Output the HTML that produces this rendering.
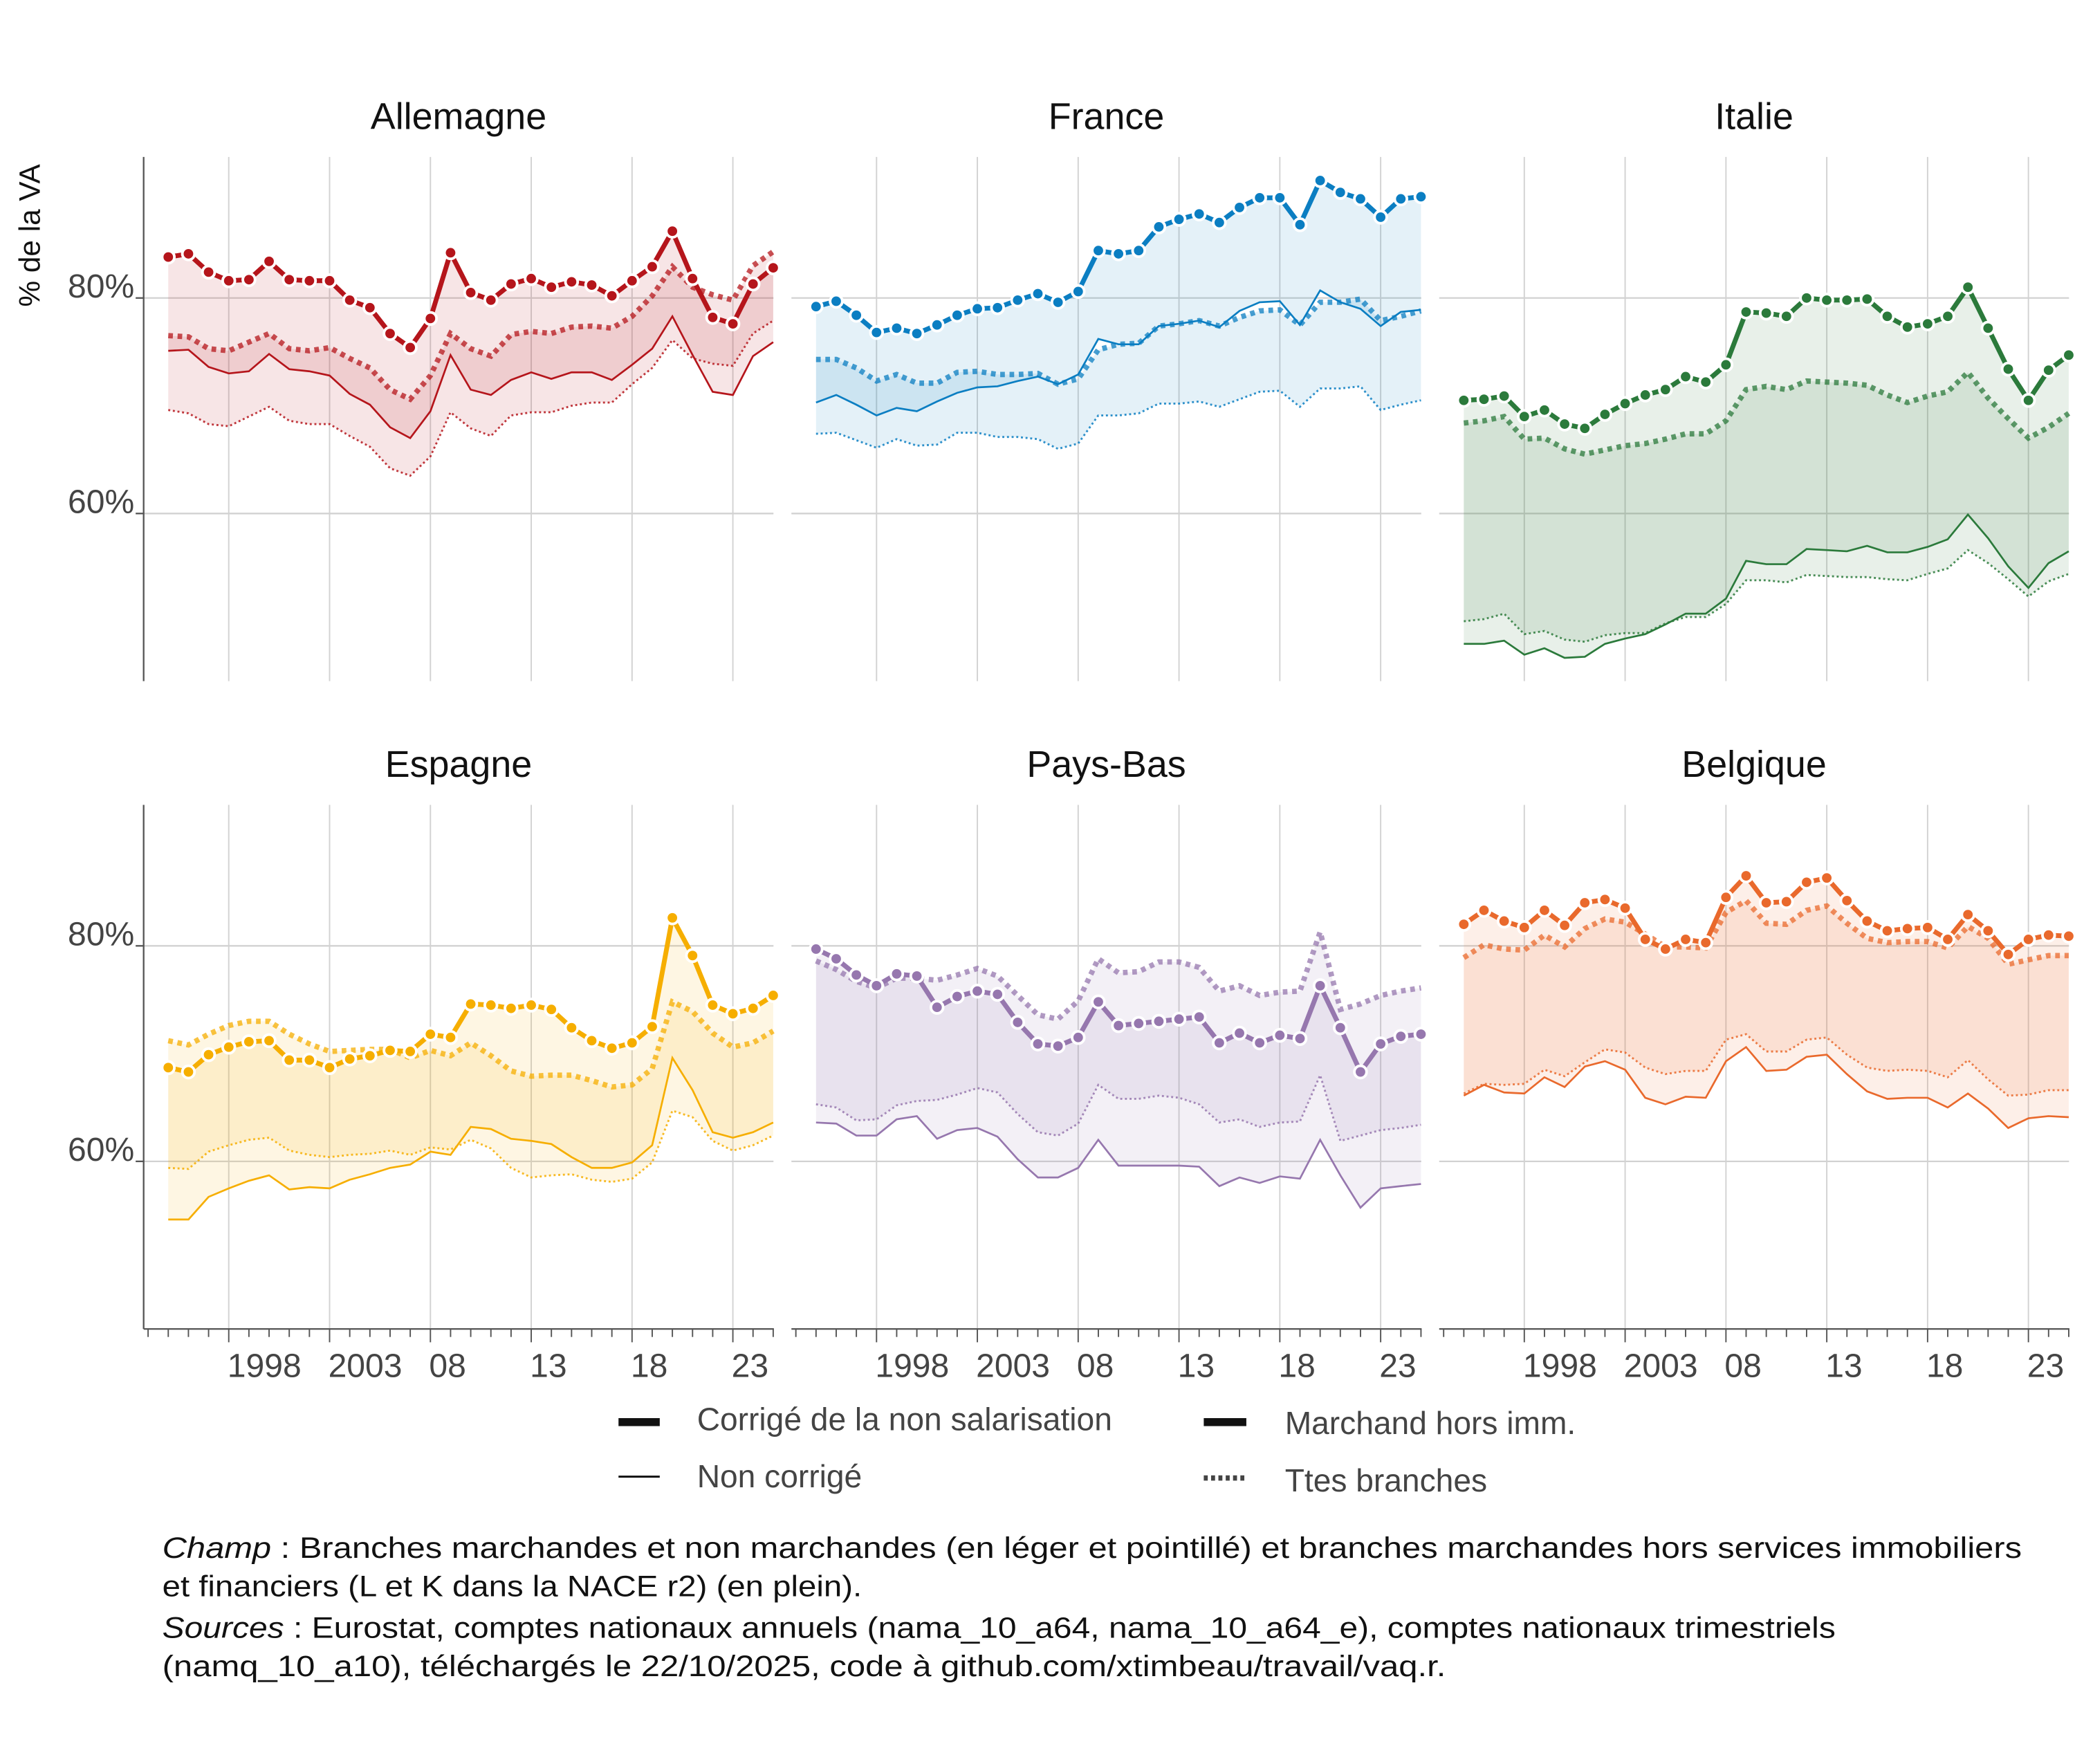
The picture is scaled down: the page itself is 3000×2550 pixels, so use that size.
<!DOCTYPE html>
<html><head><meta charset="utf-8"><style>
html,body{margin:0;padding:0;background:#fff;}
svg{display:block;}
text{font-family:"Liberation Sans Narrow","Liberation Sans",sans-serif;}
.foot{font-family:"Liberation Sans",sans-serif;font-size:22px;fill:#111;}
</style></head><body>
<svg id="chart" xmlns="http://www.w3.org/2000/svg" width="3000" height="2550" viewBox="0 0 1560 1326" preserveAspectRatio="none">
<rect x="0" y="0" width="1560" height="1326" fill="#fff"/>
<g id="grid"></g>
<g id="marks"></g>
<g id="axes"></g>
<text transform="translate(30,177) rotate(-90)" text-anchor="middle" font-size="22" fill="#111" style="font-family:'Liberation Sans',sans-serif">% de la VA</text>
<g>
 <rect x="465" y="1066" width="31" height="6" fill="#111"/>
 <text x="524" y="1075" font-size="24" fill="#444">Corrigé de la non salarisation</text>
 <line x1="465" y1="1110" x2="496" y2="1110" stroke="#111" stroke-width="1.6"/>
 <text x="524" y="1118" font-size="24" fill="#444">Non corrigé</text>
 <rect x="905" y="1066" width="32" height="6" fill="#111"/>
 <text x="966" y="1078" font-size="24" fill="#444">Marchand hors imm.</text>
 <line x1="905" y1="1111" x2="937" y2="1111" stroke="#444" stroke-width="4" stroke-dasharray="3 2.5"/>
 <text x="966" y="1121" font-size="24" fill="#444">Ttes branches</text>
</g>
<g>
 <text class="foot" x="122" y="1171" textLength="1398" lengthAdjust="spacingAndGlyphs"><tspan font-style="italic">Champ</tspan> : Branches marchandes et non marchandes (en léger et pointillé) et branches marchandes hors services immobiliers</text>
 <text class="foot" x="122" y="1200" textLength="526" lengthAdjust="spacingAndGlyphs">et financiers (L et K dans la NACE r2) (en plein).</text>
 <text class="foot" x="122" y="1231" textLength="1258" lengthAdjust="spacingAndGlyphs"><tspan font-style="italic">Sources</tspan> : Eurostat, comptes nationaux annuels (nama_10_a64, nama_10_a64_e), comptes nationaux trimestriels</text>
 <text class="foot" x="122" y="1260" textLength="965" lengthAdjust="spacingAndGlyphs">(namq_10_a10), téléchargés le 22/10/2025, code à github.com/xtimbeau/travail/vaq.r.</text>
</g>
</svg>
<script>
const years = Array.from({length:31},(_,i)=>1995+i);
const countries = ["Allemagne","France","Italie","Espagne","Pays-Bas","Belgique"];
const yTicks = [60,80];
const xTickYears = [1998,2003,2008,2013,2018,2023];
const xTickLabels = ["1998","2003","08","13","18","23"];
// A: corrigé marchand hors imm ; B: corrigé ttes branches ; C: non corrigé marchand ; D: non corrigé ttes branches
const deA=[83.8,84.1,82.4,81.6,81.7,83.4,81.7,81.6,81.6,79.8,79.1,76.7,75.4,78.1,84.2,80.5,79.8,81.3,81.8,81.0,81.5,81.2,80.2,81.6,82.9,86.2,81.8,78.2,77.6,81.3,82.8];
const deB=[76.5,76.4,75.3,75.1,75.9,76.7,75.3,75.1,75.4,74.4,73.5,71.5,70.6,72.8,76.7,75.3,74.6,76.6,76.9,76.7,77.3,77.4,77.2,78.3,80.2,82.9,81.0,80.3,79.8,83.0,84.3];
const deC=[75.1,75.2,73.6,73.0,73.2,74.8,73.4,73.2,72.8,71.1,70.1,68.0,67.0,69.5,74.7,71.5,71.0,72.4,73.1,72.5,73.1,73.1,72.4,73.8,75.3,78.3,74.7,71.3,71.0,74.6,75.9];
const deD=[69.6,69.3,68.3,68.1,69.0,69.9,68.6,68.3,68.3,67.2,66.2,64.2,63.5,65.3,69.4,67.9,67.2,69.1,69.4,69.4,70.0,70.3,70.3,72.0,73.5,76.1,74.4,73.9,73.7,76.7,77.9];
const frA=[79.2,79.7,78.4,76.8,77.2,76.7,77.5,78.4,79.0,79.1,79.8,80.4,79.6,80.6,84.4,84.1,84.4,86.6,87.3,87.8,87.0,88.4,89.3,89.3,86.8,90.9,89.8,89.2,87.5,89.2,89.4];
const frB=[74.3,74.3,73.5,72.3,72.9,72.1,72.1,73.1,73.2,72.9,72.9,73.0,72.0,72.5,75.2,75.7,75.8,77.4,77.6,77.9,77.4,78.2,78.8,78.9,77.5,79.6,79.6,79.9,77.9,78.3,78.8];
const frC=[70.3,71.0,70.1,69.1,69.8,69.5,70.4,71.2,71.7,71.8,72.3,72.7,72.0,72.9,76.2,75.7,75.7,77.4,77.6,77.9,77.3,78.8,79.6,79.7,77.5,80.7,79.6,79.0,77.4,78.7,78.9];
const frD=[67.4,67.5,66.8,66.1,66.9,66.3,66.4,67.5,67.5,67.1,67.1,66.9,66.0,66.5,69.1,69.1,69.3,70.2,70.2,70.4,69.9,70.6,71.3,71.4,69.9,71.6,71.6,71.8,69.6,70.1,70.5];
const itA=[70.5,70.6,70.9,69.0,69.6,68.3,67.9,69.2,70.2,71.0,71.5,72.7,72.2,73.8,78.7,78.6,78.3,80.0,79.8,79.8,79.9,78.3,77.3,77.6,78.3,81.0,77.2,73.4,70.5,73.3,74.7];
const itB=[68.4,68.6,69.0,66.9,67.0,66.0,65.5,65.9,66.3,66.5,66.9,67.4,67.4,68.6,71.5,71.8,71.5,72.3,72.2,72.1,71.9,71.0,70.3,70.9,71.3,73.1,70.7,68.8,67.0,68.0,69.3];
const itC=[47.9,47.9,48.2,46.9,47.5,46.6,46.7,47.9,48.4,48.8,49.7,50.7,50.7,52.1,55.6,55.3,55.3,56.7,56.6,56.5,57.0,56.4,56.4,56.9,57.6,59.9,57.7,55.1,53.1,55.4,56.5];
const itD=[50.0,50.2,50.7,48.8,49.1,48.3,48.1,48.7,48.9,48.9,49.8,50.4,50.4,51.6,53.8,53.8,53.6,54.3,54.2,54.1,54.1,53.9,53.8,54.4,54.9,56.6,55.4,53.9,52.3,53.7,54.4];
const esA=[68.7,68.3,69.9,70.6,71.1,71.2,69.4,69.4,68.7,69.5,69.8,70.3,70.2,71.8,71.5,74.6,74.5,74.2,74.5,74.1,72.4,71.2,70.5,71.0,72.5,82.6,79.1,74.5,73.7,74.2,75.4];
const esB=[71.2,70.8,71.8,72.6,73.0,73.0,71.8,70.9,70.2,70.3,70.4,70.4,69.6,70.3,69.8,71.0,69.8,68.4,67.9,68.0,68.0,67.5,66.9,67.1,68.6,74.8,73.9,71.9,70.6,71.0,72.1];
const esC=[54.6,54.6,56.7,57.5,58.2,58.7,57.4,57.6,57.5,58.3,58.8,59.4,59.7,60.9,60.6,63.2,63.0,62.1,61.9,61.6,60.4,59.4,59.4,59.9,61.5,69.6,66.6,62.7,62.2,62.7,63.6];
const esD=[59.4,59.3,60.9,61.5,62.0,62.2,61.0,60.6,60.4,60.6,60.7,61.0,60.6,61.3,61.1,62.0,61.2,59.4,58.5,58.7,58.8,58.3,58.1,58.4,59.9,64.7,64.1,61.9,61.0,61.5,62.4];
const nlA=[79.7,78.8,77.3,76.3,77.4,77.2,74.3,75.3,75.8,75.5,72.9,70.9,70.7,71.5,74.8,72.6,72.8,73.0,73.2,73.4,71.0,71.9,71.0,71.7,71.4,76.3,72.4,68.3,70.9,71.6,71.8];
const nlB=[78.6,77.8,76.7,76.1,77.0,77.0,76.8,77.3,77.9,77.2,75.4,73.6,73.2,74.9,78.8,77.5,77.6,78.5,78.5,78.0,75.8,76.3,75.4,75.7,75.8,81.3,74.1,74.6,75.4,75.8,76.1];
const nlC=[63.6,63.5,62.4,62.4,63.9,64.2,62.1,62.9,63.1,62.3,60.2,58.5,58.5,59.4,62.0,59.6,59.6,59.6,59.6,59.5,57.7,58.5,58.0,58.6,58.4,62.0,58.7,55.7,57.5,57.7,57.9];
const nlD=[65.3,65.0,63.8,63.9,65.2,65.6,65.7,66.2,66.8,66.4,64.4,62.7,62.4,63.5,67.1,65.8,65.8,66.1,65.9,65.3,63.6,63.9,63.2,63.6,63.7,68.0,61.9,62.4,62.9,63.1,63.4];
const beA=[82.0,83.3,82.3,81.7,83.3,81.9,84.0,84.3,83.5,80.6,79.7,80.6,80.3,84.5,86.5,84.0,84.1,85.9,86.3,84.2,82.3,81.4,81.6,81.7,80.6,82.9,81.4,79.2,80.6,81.0,80.9];
const beB=[78.9,80.1,79.7,79.6,81.0,79.9,81.6,82.5,82.2,81.1,79.9,79.9,79.8,83.1,84.2,82.1,82.0,83.3,83.7,82.1,80.7,80.3,80.4,80.4,79.8,81.8,80.7,78.3,78.7,79.1,79.1];
const beC=[66.1,67.1,66.4,66.3,67.8,66.9,68.8,69.3,68.5,65.9,65.3,66.0,65.9,69.3,70.6,68.4,68.5,69.7,69.9,68.1,66.5,65.8,65.9,65.9,65.0,66.3,64.9,63.1,64.0,64.2,64.1];
const beD=[66.3,67.2,67.1,67.2,68.5,67.9,69.2,70.4,70.1,68.7,68.1,68.4,68.4,71.3,71.8,70.2,70.2,71.3,71.5,69.9,68.7,68.4,68.5,68.4,67.8,69.4,67.6,66.1,66.2,66.6,66.6];

const seriesA=[deA,frA,itA,esA,nlA,beA];
const seriesB=[deB,frB,itB,esB,nlB,beB];
const seriesC=[deC,frC,itC,esC,nlC,beC];
const seriesD=[deD,frD,itD,esD,nlD,beD];
const colors=["#b5151b","#0b7ec2","#2b7a3b","#f6ae00","#9677ae","#e9692c"];

const NS="http://www.w3.org/2000/svg";
const grid=document.getElementById('grid'), marks=document.getElementById('marks'), axes=document.getElementById('axes');
function mk(tag,attrs,parent){const e=document.createElementNS(NS,tag);for(const k in attrs)e.setAttribute(k,attrs[k]);parent.appendChild(e);return e;}
function xScale(col,yr){return 126.5+487*col+(yr-1995)*15.16;}
function yScale(row,v){return 224+487*row+(80-v)*8.1;}
function slug(s){return s.toLowerCase().replace(/[^a-z]+/g,'-');}

countries.forEach((name,i)=>{
  const col=i%3,row=Math.floor(i/3);
  const x0=108+487*col, x1=581.5+487*col, yTop=118+487*row, yBot=512+487*row;
  const s=slug(name), c=colors[i];
  // title
  const t=mk('text',{x:(x0+x1)/2,y:97+487*row,'text-anchor':'middle','font-size':28,fill:'#111'},axes);
  t.textContent=name;
  
  
  // gridlines
  xTickYears.forEach(yr=>{
    const g=mk('line',{x1:xScale(col,yr),x2:xScale(col,yr),y1:yTop,y2:yBot,stroke:'#d2d2d2','stroke-width':1},grid);
    
    
  });
  yTicks.forEach(v=>{
    const g=mk('line',{x1:x0,x2:x1,y1:yScale(row,v),y2:yScale(row,v),stroke:'#d2d2d2','stroke-width':1.2},grid);
    
    
  });
  // ribbons
  [[seriesA[i],seriesC[i]],[seriesB[i],seriesD[i]]].forEach((pair,k)=>{
    let d='';
    years.forEach((yr,j)=>{d+=(j?'L':'M')+xScale(col,yr).toFixed(1)+','+yScale(row,pair[0][j]).toFixed(1);});
    for(let j=years.length-1;j>=0;j--)d+='L'+xScale(col,years[j]).toFixed(1)+','+yScale(row,pair[1][j]).toFixed(1);
    const r=mk('path',{d:d+'Z',fill:c,'fill-opacity':0.11,stroke:'none'},marks);
    
    
  });
  function pts(arr){return years.map((yr,j)=>xScale(col,yr).toFixed(1)+','+yScale(row,arr[j]).toFixed(1)).join(' ');}
  const lD=mk('polyline',{points:pts(seriesD[i]),fill:'none',stroke:c,'stroke-opacity':0.85,'stroke-width':1.5,'stroke-dasharray':'1.5 2'},marks);
  
  
  const lC=mk('polyline',{points:pts(seriesC[i]),fill:'none',stroke:c,'stroke-width':1.4},marks);
  
  
  const lB=mk('polyline',{points:pts(seriesB[i]),fill:'none',stroke:c,'stroke-opacity':0.75,'stroke-width':4,'stroke-dasharray':'3.5 3.5'},marks);
  
  
  const lA=mk('polyline',{points:pts(seriesA[i]),fill:'none',stroke:c,'stroke-width':3.6,'stroke-linejoin':'round'},marks);
  
  
  years.forEach((yr,j)=>{
    const p=mk('circle',{cx:xScale(col,yr),cy:yScale(row,seriesA[i][j]),r:4.6,fill:c,stroke:'#fff','stroke-width':2},marks);
    
    
  });
  // y axis for first column
  if(col===0){
    const a=mk('line',{x1:x0,x2:x0,y1:yTop,y2:yBot,stroke:'#555','stroke-width':1.2},axes);
    
    
    yTicks.forEach(v=>{
      const tk=mk('line',{x1:x0-6,x2:x0,y1:yScale(row,v),y2:yScale(row,v),stroke:'#555','stroke-width':1.2},axes);
      
      
      const lb=mk('text',{x:x0-7,y:yScale(row,v)-0.5,'text-anchor':'end','font-size':25,fill:'#444'},axes);
      lb.textContent=v+'%';
      
      
    });
  }
  // x axis for bottom row
  if(row===1){
    const ax=mk('line',{x1:x0,x2:xScale(col,2025)+0.5,y1:yBot+485-487+487-485+0,y2:yBot,stroke:'#555','stroke-width':1.2},axes);
    ax.setAttribute('y1', yBot);
    
    
    for(let yr=1994;yr<=2025;yr++){
      const major=xTickYears.includes(yr);
      const tk=mk('line',{x1:xScale(col,yr),x2:xScale(col,yr),y1:yBot,y2:yBot+(major?10:6),stroke:'#555','stroke-width':1},axes);
      
      
    }
    xTickYears.forEach((yr,k)=>{
      const lb=mk('text',{x:xScale(col,yr)-1,y:yBot+36,'font-size':25,fill:'#444'},axes);
      lb.textContent=xTickLabels[k];
      
      
    });
  }
});
</script>
</body></html>
